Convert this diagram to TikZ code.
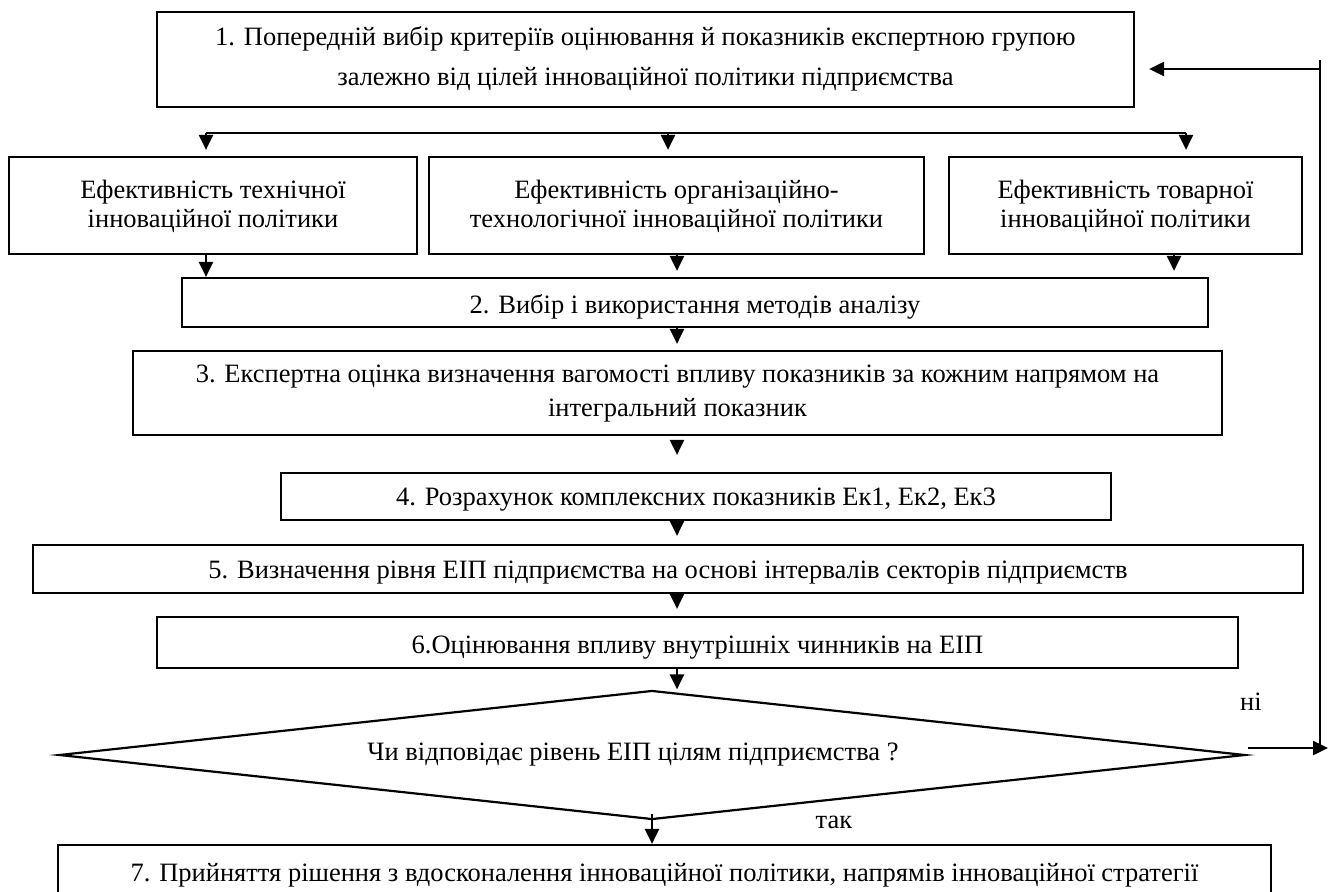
\documentclass[tikz,border=0pt]{standalone}
\usepackage{fontspec}
\setmainfont{Liberation Serif}
\usetikzlibrary{arrows.meta,shapes.geometric}
% #1 raise, #2 baselineskip, #3 lines
\newcommand\rb[3]{\fontsize{26.5}{#2}\selectfont\raisebox{#1}[\height][\depth]{\begin{tabular}{@{}c@{}}#3\end{tabular}}}
\begin{document}
\begin{tikzpicture}[x=1pt,y=-1pt,
  txt/.style={font=\fontsize{26.5}{31}\selectfont},
  box/.style={draw,line width=2.2pt,inner sep=0pt,txt,minimum width=#1},
  arr/.style={-{Triangle[length=15pt,width=14pt]},line width=2.4pt},
  ln/.style={line width=2.4pt}]
\clip (0,0) rectangle (1335,891);
\fill[white] (0,0) rectangle (1335,891);
% boxes
\node[box=977,minimum height=95] (b1) at (645.5,59.5) {\rb{1.5pt}{40pt}{1. Попередній вибір критеріїв оцінювання й показників експертною групою\\залежно від цілей інноваційної політики підприємства}};
\node[box=408,minimum height=97] (ra) at (213,205.5) {\rb{-1.2pt}{29pt}{Ефективність технічної\\інноваційної політики}};
\node[box=495,minimum height=97] (rbx) at (676.5,205.5) {\rb{-1.2pt}{29pt}{Ефективність організаційно-\\технологічної інноваційної політики}};
\node[box=353,minimum height=97] (rc) at (1125.5,205.5) {\rb{-1.2pt}{29pt}{Ефективність товарної\\інноваційної політики}};
\node[box=1026,minimum height=49] (b2) at (695,302.5) {\rb{-4.3pt}{31pt}{2. Вибір і використання методів аналізу}};
\node[box=1089,minimum height=84] (b3) at (677.5,393) {\rb{0.8pt}{34pt}{3. Експертна оцінка визначення вагомості впливу показників за кожним напрямом на\\інтегральний показник}};
\node[box=830,minimum height=47] (b4) at (696,496.5) {\rb{-2.8pt}{31pt}{4. Розрахунок комплексних показників Ек1, Ек2, Ек3}};
\node[box=1270,minimum height=48] (b5) at (668,569) {\rb{-2.8pt}{31pt}{5. Визначення рівня ЕІП підприємства на основі інтервалів секторів підприємств}};
\node[box=1081,minimum height=51] (b6) at (697.5,642.5) {\rb{-4.3pt}{31pt}{6.Оцінювання впливу внутрішніх чинників на ЕІП}};
\node[draw,line width=2.2pt,diamond,aspect=9.2,inner sep=0pt,minimum width=1186,minimum height=129,txt] (dia) at (652,755) {\hspace*{-38pt}Чи відповідає рівень ЕІП цілям підприємства ?};
\node[box=1213,minimum height=55] (b7) at (664.5,872.5) {\rb{-2.3pt}{31pt}{7. Прийняття рішення з вдосконалення інноваційної політики, напрямів інноваційної стратегії}};
% labels
\node[txt] (ni) at (1251,702) {ні};
\node[txt] (tak) at (834,822) {так};
% coordinates
\coordinate (d1) at (206,133);
\coordinate (d2) at (668,133);
\coordinate (d3) at (1186,133);
\coordinate (mx) at (677,0);
\coordinate (cx) at (1174,0);
\coordinate (fb) at (1320,60);
\coordinate (fa) at (1320,69);
\coordinate (fy) at (1320,748);
% distribution
\draw[ln] (d1) -- (d3);
\draw[arr,shorten >=6pt] (d1) -- (d1 |- ra.north);
\draw[arr,shorten >=6pt] (d2) -- (d2 |- rbx.north);
\draw[arr,shorten >=6pt] (d3) -- (d3 |- rc.north);
% rows to box 2
\draw[arr] (ra.south -| d1) -- (b2.north -| d1);
\draw[arr,shorten >=6pt] (rbx.south -| mx) -- (b2.north -| mx);
\draw[arr,shorten >=6pt] (rc.south -| cx) -- (b2.north -| cx);
% chain
\draw[arr,shorten >=6pt] (b2.south -| mx) -- (b3.north -| mx);
\draw[arr,shorten <=7pt,shorten >=17pt] (b3.south -| mx) -- (b4.north -| mx);
\draw[arr,shorten >=8pt] (b4.south -| mx) -- (b5.north -| mx);
\draw[arr,shorten >=7pt] (b5.south -| mx) -- (b6.north -| mx);
\draw[arr] (b6.south -| mx) -- (dia.north -| mx);
\draw[arr,shorten <=-7pt] (dia.south) -- (b7.north -| dia.south);
% feedback
\draw[arr,shorten <=2pt,shorten >=-8pt] (dia.east |- fy) -- (fy);
\draw[ln] (fb) -- (fy);
\draw[arr,shorten >=14pt] (fa) -- (b1.east |- fa);
\end{tikzpicture}
\end{document}
